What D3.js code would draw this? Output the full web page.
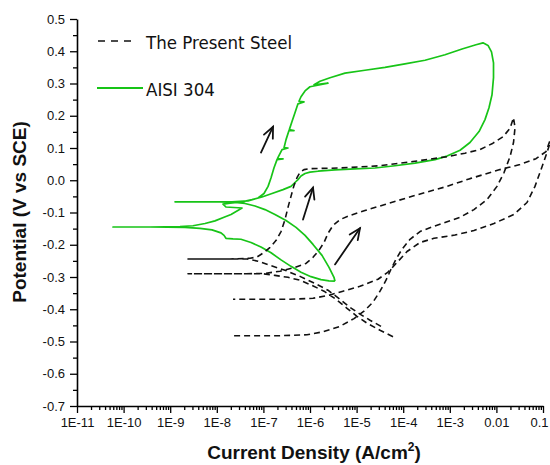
<!DOCTYPE html>
<html><head><meta charset="utf-8">
<script src="https://cdn.jsdelivr.net/npm/d3@7"></script>
<style>
html,body{margin:0;padding:0;background:#fff;}
svg{display:block;}
</style></head>
<body>
<svg id="chart" width="550" height="465"></svg>
<script>
// ---------- tick labels ----------
const xTickValues = [1e-11,1e-10,1e-9,1e-8,1e-7,1e-6,1e-5,1e-4,1e-3,1e-2,1e-1];
const xTickLabels = ["1E-11","1E-10","1E-9","1E-8","1E-7","1E-6","1E-5","1E-4","1E-3","0.01","0.1"];
const yTickValues = [0.5,0.4,0.3,0.2,0.1,0.0,-0.1,-0.2,-0.3,-0.4,-0.5,-0.6,-0.7];
const yTickLabels = ["0.5","0.4","0.3","0.2","0.1","0.0","-0.1","-0.2","-0.3","-0.4","-0.5","-0.6","-0.7"];
const yMinorValues = [0.45,0.35,0.25,0.15,0.05,-0.05,-0.15,-0.25,-0.35,-0.45,-0.55,-0.65];
const seriesNames = ["The Present Steel","AISI 304"];

// ---------- AISI 304 (cyclic scan) ----------
const aisiCurrent = [3.44e-6,3.27e-6,2.56e-6,1.81e-6,1.16e-6,7.82e-7,5.01e-7,3.06e-7,1.77e-7,1.08e-7,6.61e-8,4.03e-8,2.46e-8,1.17e-8,4.35e-9,1.27e-9,5.58e-9,2.12e-8,4.68e-8,7.66e-8,1.03e-7,1.26e-7,1.46e-7,1.69e-7,1.96e-7,2.64e-7,2.0e-7,2.51e-7,3.37e-7,2.77e-7,3.06e-7,3.54e-7,4.54e-7,3.6e-7,4.11e-7,4.76e-7,5.52e-7,7.43e-7,5.8e-7,6.41e-7,7.82e-7,1.0e-6,2.43e-6,1.22e-6,1.64e-6,2.69e-6,5.64e-6,1.51e-5,4.06e-5,1.09e-4,2.94e-4,7.89e-4,1.83e-3,3.65e-3,5.15e-3,6.61e-3,7.85e-3,8.67e-3,8.67e-3,8.05e-3,6.93e-3,5.69e-3,4.24e-3,2.71e-3,1.66e-3,8.71e-4,4.81e-4,1.79e-4,6.67e-5,2.48e-5,9.25e-6,3.44e-6,1.49e-6,1.0e-6,7.82e-7,6.41e-7,5.52e-7,4.76e-7,3.91e-7,2.64e-7,1.53e-7,9.33e-8,5.69e-8,3.48e-8,1.92e-8,1.36e-8,1.57e-8,3.48e-8,2.71e-8,2.02e-8,1.43e-8,9.14e-9,5.58e-9,3.08e-9,1.62e-9,3.69e-10,5.92e-11,3.69e-10,2.08e-9,4.35e-9,7.89e-9,1.23e-8,1.43e-8,1.57e-8,2.23e-8,3.30e-8,5.42e-8,8.87e-8,1.46e-7,2.39e-7,3.91e-7,6.41e-7,1.05e-6,1.72e-6,2.56e-6,3.44e-6];
const aisiPotential = [-0.313,-0.301,-0.270,-0.233,-0.199,-0.171,-0.146,-0.125,-0.106,-0.091,-0.080,-0.072,-0.069,-0.067,-0.067,-0.067,-0.067,-0.067,-0.064,-0.055,-0.041,-0.019,0.008,0.039,0.064,0.066,0.067,0.095,0.100,0.101,0.126,0.154,0.154,0.157,0.182,0.209,0.237,0.243,0.245,0.259,0.277,0.290,0.301,0.296,0.307,0.318,0.332,0.341,0.350,0.361,0.372,0.389,0.407,0.420,0.426,0.418,0.398,0.364,0.318,0.265,0.225,0.188,0.151,0.117,0.093,0.075,0.064,0.053,0.045,0.038,0.035,0.032,0.028,0.025,0.021,0.013,0.002,-0.007,-0.019,-0.029,-0.041,-0.052,-0.060,-0.067,-0.071,-0.074,-0.083,-0.086,-0.095,-0.106,-0.115,-0.126,-0.134,-0.141,-0.144,-0.145,-0.145,-0.145,-0.146,-0.149,-0.154,-0.163,-0.171,-0.180,-0.182,-0.183,-0.193,-0.207,-0.225,-0.247,-0.267,-0.285,-0.299,-0.308,-0.312,-0.313];

// ---------- The Present Steel, run A ----------
const steelACurrent = [3.34e-5,1.94e-5,1.18e-5,7.21e-6,4.41e-6,2.43e-6,1.28e-6,6.09e-7,2.91e-7,1.39e-7,7.66e-8,4.45e-8,2.41e-9,1.92e-8,5.15e-8,7.30e-8,1.03e-7,1.39e-7,1.86e-7,2.39e-7,2.91e-7,3.37e-7,3.91e-7,4.54e-7,5.26e-7,6.09e-7,7.43e-7,1.0e-6,4.41e-6,3.18e-5,1.62e-4,8.71e-4,2.12e-3,4.45e-3,8.45e-3,1.39e-2,1.96e-2,2.33e-2,2.51e-2,2.33e-2,1.96e-2,1.46e-2,1.03e-2,6.28e-3,3.30e-3,1.66e-3,7.89e-4,4.15e-4,2.30e-4,1.40e-4,9.42e-5,7.00e-5,5.47e-5,4.28e-5,3.18e-5,2.25e-5,1.44e-5,8.79e-6,4.41e-6,1.90e-6,8.63e-7,2.27e-7,2.23e-8];
const steelAPotential = [-0.453,-0.434,-0.415,-0.394,-0.369,-0.341,-0.320,-0.298,-0.279,-0.264,-0.251,-0.244,-0.244,-0.244,-0.242,-0.238,-0.224,-0.208,-0.187,-0.159,-0.122,-0.084,-0.050,-0.016,0.008,0.024,0.033,0.036,0.038,0.045,0.058,0.073,0.084,0.095,0.115,0.135,0.161,0.194,0.163,0.117,0.073,0.024,-0.019,-0.060,-0.091,-0.115,-0.131,-0.145,-0.159,-0.183,-0.214,-0.245,-0.276,-0.310,-0.344,-0.378,-0.406,-0.429,-0.453,-0.470,-0.479,-0.482,-0.482];

// ---------- The Present Steel, run B ----------
const steelBCurrent = [6.04e-5,3.18e-5,1.67e-5,1.02e-5,6.22e-6,3.61e-6,2.0e-6,1.10e-6,6.09e-7,3.37e-7,1.77e-7,9.79e-8,2.41e-9,3.15e-8,1.08e-7,2.27e-7,4.76e-7,8.20e-7,1.16e-6,1.56e-6,2.0e-6,2.43e-6,3.12e-6,4.41e-6,7.21e-6,1.51e-5,4.06e-5,1.62e-4,8.71e-4,2.71e-3,1.19e-2,3.21e-2,7.08e-2,0.116,0.149,0.172,0.149,0.122,9.53e-2,6.73e-2,4.54e-2,2.39e-2,8.87e-3,3.30e-3,1.29e-3,4.58e-4,2.30e-4,1.21e-4,7.36e-5,4.72e-5,2.88e-5,1.18e-5,5.10e-6,2.32e-6,1.16e-6,3.72e-7,2.23e-8];
const steelBPotential = [-0.485,-0.465,-0.443,-0.422,-0.397,-0.369,-0.344,-0.326,-0.310,-0.301,-0.295,-0.290,-0.290,-0.290,-0.289,-0.282,-0.270,-0.258,-0.239,-0.217,-0.193,-0.165,-0.140,-0.122,-0.109,-0.094,-0.075,-0.049,-0.019,0.005,0.033,0.049,0.067,0.089,0.132,0.182,0.126,0.086,0.042,-0.019,-0.069,-0.106,-0.134,-0.156,-0.170,-0.180,-0.193,-0.221,-0.255,-0.285,-0.307,-0.329,-0.344,-0.358,-0.366,-0.369,-0.369];

// ---------- scan-direction arrows ----------
const arrowFromCurrent = [8.87e-8,7.08e-7,3.44e-6];
const arrowFromPotential = [0.086,-0.122,-0.261];
const arrowToCurrent = [1.61e-7,1.16e-6,1.18e-5];
const arrowToPotential = [0.166,-0.023,-0.149];

// ---------- drawing ----------
const svg = d3.select("#chart");
const x = d3.scaleLog().domain([1e-11, 0.1]).range([77, 543]);
const y = d3.scaleLinear().domain([-0.7, 0.5]).range([406, 19]);
const GREEN = "#17c417";
const tickFont = "'Liberation Sans', Arial, sans-serif";

const zip = (a, b) => a.map((v, i) => [v, b[i]]);
const line = d3.line().x(d => x(d[0])).y(d => y(d[1]));

// green curve
svg.append("path").attr("d", line(zip(aisiCurrent, aisiPotential)))
  .attr("fill", "none").attr("stroke", GREEN).attr("stroke-width", 1.7)
  .attr("stroke-linejoin", "round");

// dashed curves
[[steelACurrent, steelAPotential], [steelBCurrent, steelBPotential]].forEach(s => {
  svg.append("path").attr("d", line(zip(s[0], s[1])))
    .attr("fill", "none").attr("stroke", "#111").attr("stroke-width", 1.6)
    .attr("stroke-dasharray", "6,4").attr("stroke-linejoin", "round");
});

// arrows
arrowFromCurrent.forEach((c, i) => {
  const x0 = x(c), y0 = y(arrowFromPotential[i]);
  const x1 = x(arrowToCurrent[i]), y1 = y(arrowToPotential[i]);
  const ang = Math.atan2(y1 - y0, x1 - x0);
  const L = 12, spread = 0.42;
  const g = svg.append("g").attr("stroke", "#111").attr("stroke-width", 1.8)
    .attr("fill", "none").attr("stroke-linecap", "round");
  g.append("line").attr("x1", x0).attr("y1", y0).attr("x2", x1).attr("y2", y1);
  g.append("path").attr("d",
    `M${x1 - L*Math.cos(ang - spread)},${y1 - L*Math.sin(ang - spread)}L${x1},${y1}L${x1 - L*Math.cos(ang + spread)},${y1 - L*Math.sin(ang + spread)}`)
    .attr("stroke-linejoin", "miter");
});

// axes
const yAxis = d3.axisLeft(y).tickValues(yTickValues).tickSize(7).tickSizeOuter(0).tickPadding(5)
  .tickFormat((d, i) => yTickLabels[i]);
const gy = svg.append("g").attr("transform", "translate(77,0)").call(yAxis);
svg.append("g").attr("transform", "translate(77,0)")
  .call(d3.axisLeft(y).tickValues(yMinorValues).tickSize(4).tickFormat("")).select(".domain").remove();

const xAxis = d3.axisBottom(x).tickValues(xTickValues).tickSize(7).tickSizeOuter(0).tickPadding(5)
  .tickFormat((d, i) => xTickLabels[i]);
const gx = svg.append("g").attr("transform", "translate(0,406)").call(xAxis);
gx.selectAll(".tick text").filter((d, i) => i === xTickValues.length - 1).attr("dx", -4);
const xMinor = [];
xTickValues.slice(0, -1).forEach(dec => { for (let k = 2; k <= 9; k++) xMinor.push(k * dec); });
svg.append("g").attr("transform", "translate(0,406)")
  .call(d3.axisBottom(x).tickValues(xMinor).tickSize(4).tickFormat("")).select(".domain").remove();

svg.selectAll(".domain").attr("stroke", "#000").attr("stroke-width", 1.6);
svg.selectAll(".tick line").attr("stroke", "#000").attr("stroke-width", 1.3);
svg.selectAll(".tick text").attr("font-family", tickFont).attr("font-size", 13).attr("fill", "#111");

// axis titles
const xt = svg.append("text").attr("x", 314).attr("y", 459).attr("text-anchor", "middle")
  .attr("font-family", tickFont).attr("font-weight", "bold").attr("font-size", 19).attr("fill", "#111");
xt.append("tspan").text("Current Density (A/cm");
xt.append("tspan").attr("dy", -8).attr("font-size", 12).text("2");
xt.append("tspan").attr("dy", 8).text(")");

svg.append("text").attr("transform", "translate(26,212) rotate(-90)").attr("text-anchor", "middle")
  .attr("font-family", tickFont).attr("font-weight", "bold").attr("font-size", 19).attr("fill", "#111")
  .text("Potential (V vs SCE)");

// legend
const legFont = "'DejaVu Sans Condensed', 'DejaVu Sans', sans-serif";
svg.append("line").attr("x1", 98).attr("x2", 136).attr("y1", 41).attr("y2", 41)
  .attr("stroke", "#111").attr("stroke-width", 1.6).attr("stroke-dasharray", "7,6");
svg.append("text").attr("x", 146).attr("y", 49).attr("font-family", legFont).attr("font-stretch", "condensed")
  .attr("font-size", 18.5).attr("fill", "#111").text(seriesNames[0]);
svg.append("line").attr("x1", 97).attr("x2", 143).attr("y1", 88).attr("y2", 88)
  .attr("stroke", GREEN).attr("stroke-width", 1.8);
svg.append("text").attr("x", 146).attr("y", 95.5).attr("font-family", legFont).attr("font-stretch", "condensed")
  .attr("font-size", 18.5).attr("fill", "#111").text(seriesNames[1]);
</script>
</body></html>
